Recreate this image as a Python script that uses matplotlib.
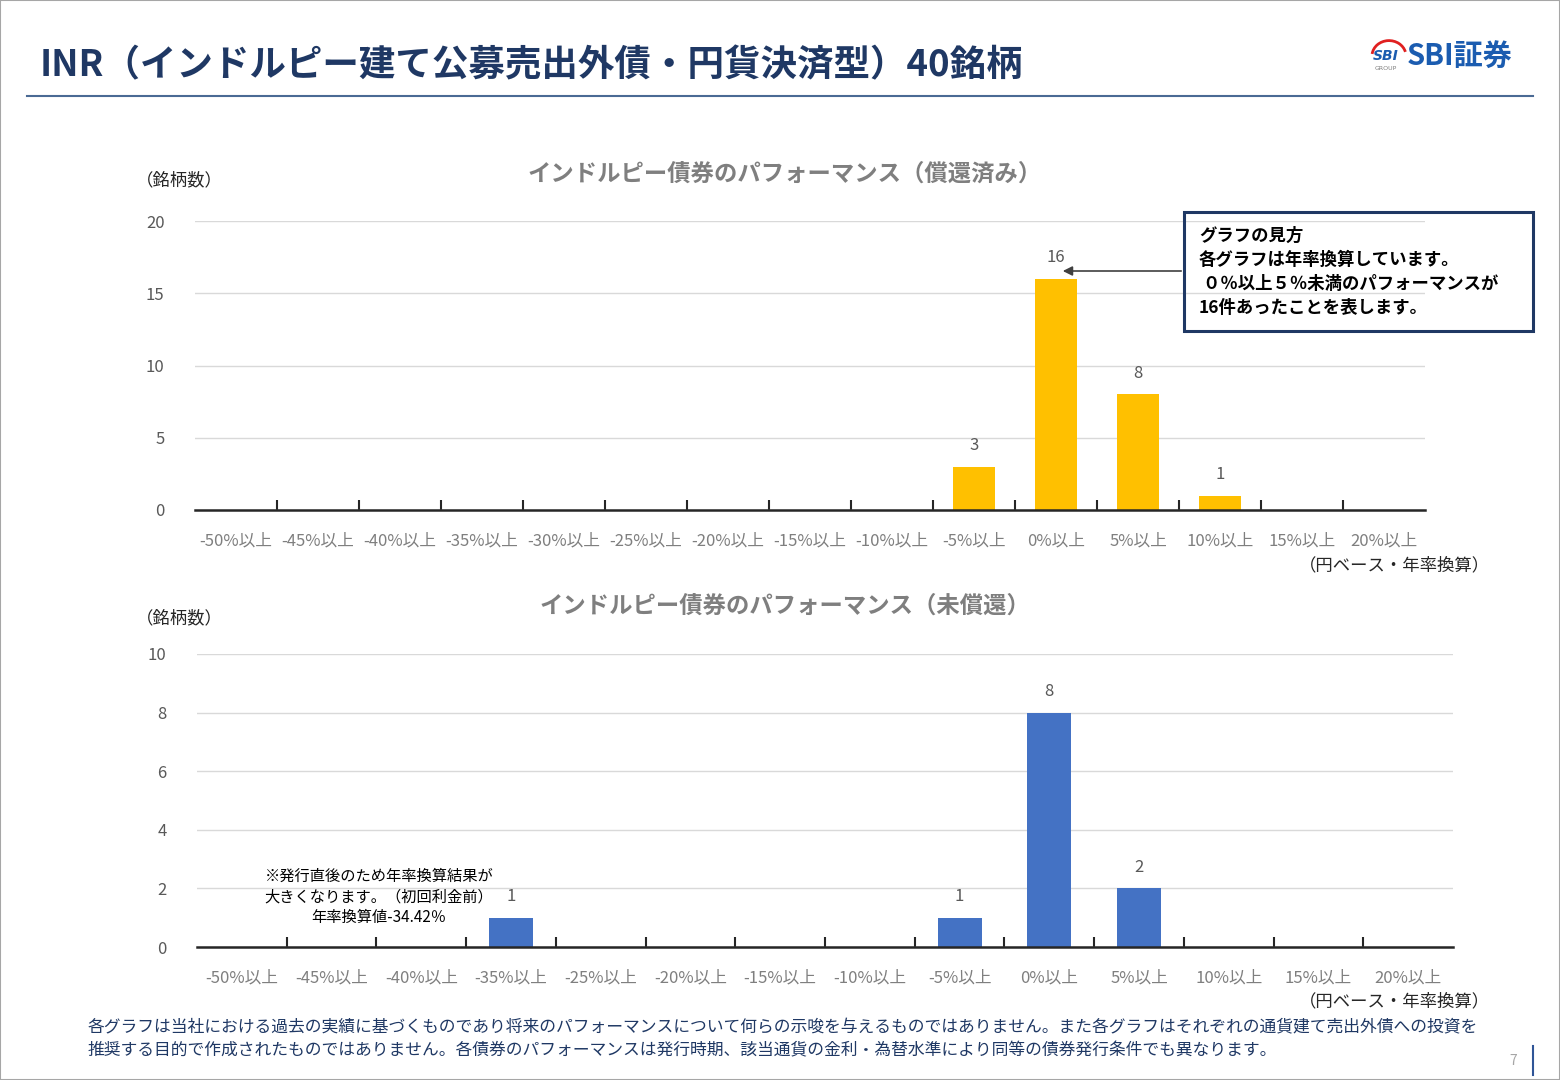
import matplotlib
matplotlib.use("Agg")
import matplotlib.pyplot as plt
from matplotlib.patches import Rectangle, Arc
from matplotlib.lines import Line2D
from matplotlib.ticker import FixedLocator

plt.rcParams['font.family'] = ['Noto Sans CJK JP', 'DejaVu Sans']

# ---------------- data ----------------
top_categories = ['-50%以上', '-45%以上', '-40%以上', '-35%以上', '-30%以上', '-25%以上',
                  '-20%以上', '-15%以上', '-10%以上', '-5%以上', '0%以上', '5%以上',
                  '10%以上', '15%以上', '20%以上']
top_values = [0, 0, 0, 0, 0, 0, 0, 0, 0, 3, 16, 8, 1, 0, 0]
top_yticks = [0, 5, 10, 15, 20]

bottom_categories = ['-50%以上', '-45%以上', '-40%以上', '-35%以上', '-25%以上',
                     '-20%以上', '-15%以上', '-10%以上', '-5%以上', '0%以上', '5%以上',
                     '10%以上', '15%以上', '20%以上']
bottom_values = [0, 0, 0, 1, 0, 0, 0, 0, 1, 8, 2, 0, 0, 0]
bottom_yticks = [0, 2, 4, 6, 8, 10]

main_title = 'INR（インドルピー建て公募売出外債・円貨決済型）40銘柄'
top_title = 'インドルピー債券のパフォーマンス（償還済み）'
bottom_title = 'インドルピー債券のパフォーマンス（未償還）'
y_unit = '（銘柄数）'
x_unit = '（円ベース・年率換算）'
note_box = 'グラフの見方\n各グラフは年率換算しています。\n ０％以上５％未満のパフォーマンスが\n16件あったことを表します。'
note_small = '※発行直後のため年率換算結果が\n大きくなります。（初回利金前）\n年率換算値-34.42％'
footnote = ('各グラフは当社における過去の実績に基づくものであり将来のパフォーマンスについて何らの示唆を与えるものではありません。また各グラフはそれぞれの通貨建て売出外債への投資を\n'
            '推奨する目的で作成されたものではありません。各債券のパフォーマンスは発行時期、該当通貨の金利・為替水準により同等の債券発行条件でも異なります。')

W, H = 1560, 1080
fig = plt.figure(figsize=(W / 100, H / 100), dpi=100)


def fx(px):
    return px / W


def fy(py):
    return 1 - py / H


NAVY = '#1F3864'
GRAY_TXT = '#595959'

# border
fig.patches.append(Rectangle((0, 0), 1, 1, transform=fig.transFigure, fill=False,
                             edgecolor='#A6A6A6', linewidth=1.5))

# main title
fig.text(fx(40), fy(66), main_title, fontsize=26.3, fontweight='bold', color=NAVY,
         va='center', ha='left')
fig.add_artist(Line2D([fx(27), fx(1533)], [fy(96), fy(96)], color='#4A6A94', linewidth=1.5))

# logo
fig.text(fx(1407), fy(57), 'SBI証券', fontsize=21, fontweight='bold', color='#1B5CB0',
         va='center', ha='left')
fig.text(fx(1386), fy(56), 'SBI', fontsize=10, fontweight='bold', fontstyle='italic',
         color='#1B5CB0', va='center', ha='center', family=['DejaVu Sans'])
fig.text(fx(1386), fy(68), 'GROUP', fontsize=4.5, color='#7F7F7F', va='center', ha='center',
         family=['DejaVu Sans'])
fig.add_artist(Arc((fx(1389), fy(56)), fx(34), 14 / H * 2.2, theta1=20, theta2=170,
                   color='#E02020', linewidth=2, transform=fig.transFigure))


def draw_chart(rect, cats, vals, yticks, color, bar_w, title, title_y):
    ax = fig.add_axes(rect)
    x = list(range(len(cats)))
    bars = ax.bar(x, vals, width=bar_w, color=color, zorder=3)
    ax.bar_label(bars, labels=[str(v) if v else '' for v in vals], padding=9,
                 fontsize=12, color=GRAY_TXT)
    ax.set_xlim(-0.5, len(cats) - 0.5)
    ax.set_ylim(yticks[0], yticks[-1])
    ax.set_yticks(yticks)
    ax.set_xticks(x)
    ax.set_xticklabels(cats, fontsize=12, color='#7F7F7F')
    ax.tick_params(axis='x', which='major', length=0, pad=16)
    ax.xaxis.set_minor_locator(FixedLocator([i + 0.5 for i in range(len(cats) - 1)]))
    ax.tick_params(axis='x', which='minor', length=7, width=1.5, direction='in',
                   color='#262626')
    ax.tick_params(axis='y', length=0, pad=22, labelsize=12, labelcolor=GRAY_TXT)
    ax.yaxis.grid(True, color='#D9D9D9', linewidth=1, zorder=0)
    ax.set_axisbelow(True)
    for s in ['top', 'right', 'left']:
        ax.spines[s].set_visible(False)
    ax.spines['bottom'].set_color('#262626')
    ax.spines['bottom'].set_linewidth(1.8)
    ax.spines['bottom'].set_zorder(4)
    fig.text(fx(785), fy(title_y), title, fontsize=16.8, fontweight='bold', color='#7F7F7F',
             ha='center', va='center')
    return ax


ax1 = draw_chart([fx(195), fy(510), fx(1425) - fx(195), (510 - 221) / H],
                 top_categories, top_values, top_yticks, '#FFC000', 0.51, top_title, 174)
ax2 = draw_chart([fx(197), fy(947), fx(1453) - fx(197), (947 - 654) / H],
                 bottom_categories, bottom_values, bottom_yticks, '#4472C4', 0.49,
                 bottom_title, 606)

# unit labels
fig.text(fx(136), fy(180), y_unit, fontsize=12.5, color='#262626', ha='left', va='center')
fig.text(fx(136), fy(618), y_unit, fontsize=12.5, color='#262626', ha='left', va='center')
fig.text(fx(1490), fy(565), x_unit, fontsize=12.5, color='#262626', ha='right', va='center')
fig.text(fx(1490), fy(1001), x_unit, fontsize=12.5, color='#262626', ha='right', va='center')

# explanation box
fig.text(fx(1199), fy(272), note_box, fontsize=12.5, fontweight='bold', color='black',
         ha='left', va='center', linespacing=1.45)
fig.patches.append(Rectangle((fx(1184), fy(331)), fx(1533) - fx(1184), (331 - 212) / H,
                             transform=fig.transFigure, fill=True, facecolor='none',
                             edgecolor=NAVY, linewidth=2.2))
ax1.annotate('', xy=(fx(1060), fy(271)), xycoords='figure fraction',
             xytext=(fx(1184), fy(271)), textcoords='figure fraction',
             arrowprops=dict(arrowstyle='-|>', color='#404040', lw=1.2, mutation_scale=14))

# small note in bottom chart
fig.text(fx(379), fy(897), note_small, fontsize=11, color='black', ha='center', va='center',
         linespacing=1.3)

# footnote
fig.text(fx(88), fy(1039), footnote, fontsize=12.1, color=NAVY, ha='left', va='center',
         linespacing=1.45)

# page number
fig.text(fx(1513), fy(1061), '7', fontsize=10, color='#A6A6A6', ha='center', va='center')
fig.add_artist(Line2D([fx(1533), fx(1533)], [fy(1046), fy(1075)], color='#2F5597', linewidth=1.5))

fig.savefig('out.png', dpi=100)
